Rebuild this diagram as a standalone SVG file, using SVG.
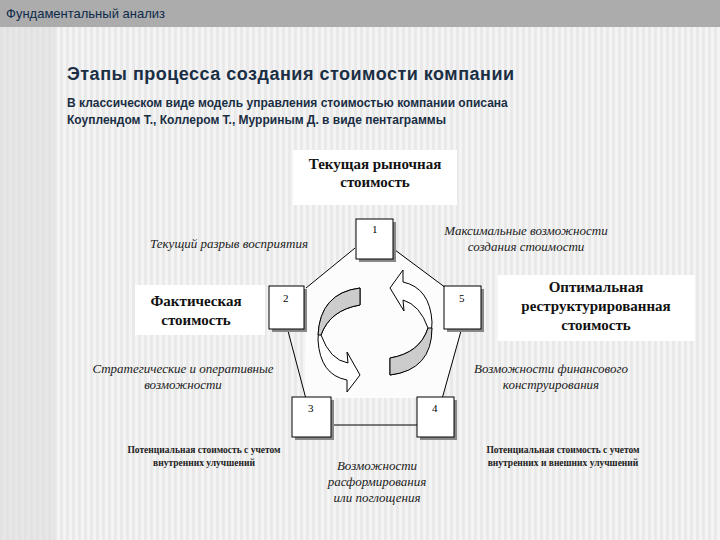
<svg xmlns="http://www.w3.org/2000/svg" width="720" height="540" viewBox="0 0 720 540">
<defs>
<pattern id="st" width="6" height="10" patternUnits="userSpaceOnUse"><rect width="6" height="10" fill="#f4f4f4"/><rect width="3" height="10" fill="#e9e9e9"/></pattern>
<style>
.b{fill:#fff;stroke:#000;stroke-width:1}
.sh{fill:#888}
.n{font-family:"Liberation Serif",serif;font-size:11px}
.it{font-family:"Liberation Serif",serif;font-size:13px;font-style:italic;fill:#222}
.big{font-family:"Liberation Serif",serif;font-size:15px;font-weight:bold;fill:#111}
.sm{font-family:"Liberation Serif",serif;font-size:9.5px;font-weight:bold;fill:#222}
.ln{stroke:#000;stroke-width:1;fill:none}
</style>
</defs>
<rect width="720" height="540" fill="url(#st)"/>
<rect width="55" height="540" fill="#ddd" opacity="0.6"/>
<rect width="720" height="27" fill="#acacac"/>
<text x="6" y="18" font-family="Liberation Sans,sans-serif" font-size="13" fill="#0e2a4a">Фундаментальный анализ</text>
<text x="67" y="80" font-family="Liberation Sans,sans-serif" font-size="18" font-weight="bold" fill="#1a2e44" letter-spacing="0.5">Этапы процесса создания стоимости компании</text>
<text font-family="Liberation Sans,sans-serif" font-size="12" font-weight="bold" fill="#1a2e44"><tspan x="67" y="107">В классическом виде модель управления стоимостью компании описана</tspan><tspan x="67" y="124">Коуплендом Т., Коллером Т., Мурриным Д. в виде пентаграммы</tspan></text>
<g id="pentagon"><polygon points="357,245 306,287 305,398 443,398 461,330 445,287 394,250" fill="#fcfcfc" stroke="none"/></g>
<g id="connectors">
<line class="ln" x1="355" y1="248" x2="306" y2="288"/>
<line class="ln" x1="395" y1="250" x2="446" y2="288"/>
<line class="ln" x1="288" y1="331" x2="306" y2="399"/>
<line class="ln" x1="461" y1="331" x2="442" y2="399"/>
<line class="ln" x1="332" y1="425" x2="418" y2="425"/>
</g>
<g id="arrows">
<path d="M360,288 L360,305 Q330,310 321,335 Q330,360 348,363 L347,352 L360,375 L347,392 L347,380 Q320,375 318,340 Q318,293 360,288 Z" fill="#fff" stroke="#000"/>
<path d="M360,288 L360,305 Q330,310 321,335 L318,335 Q320,293 360,288 Z" fill="#ccc" stroke="#000"/>
<path d="M390,375 L390,358 Q420,353 428,328 Q420,305 403,300 L404,311 L390,288 L403,270 L403,282 Q430,288 432,322 Q432,370 390,375 Z" fill="#fff" stroke="#000"/>
<path d="M390,375 L390,358 Q420,353 428,328 L432,328 Q432,370 390,375 Z" fill="#ccc" stroke="#000"/>
</g>
<g id="n1"><rect class="sh" x="359" y="222" width="37" height="40"/><rect class="b" x="356" y="219" width="37" height="40"/><text class="n" x="372" y="233">1</text></g>
<g id="n2"><rect class="sh" x="272" y="289" width="35" height="43"/><rect class="b" x="269" y="286" width="35" height="43"/><text class="n" x="283" y="302">2</text></g>
<g id="n5"><rect class="sh" x="447" y="289" width="37" height="43"/><rect class="b" x="444" y="286" width="37" height="43"/><text class="n" x="459" y="302">5</text></g>
<g id="n3"><rect class="sh" x="295" y="400" width="39" height="40"/><rect class="b" x="292" y="397" width="39" height="40"/><text class="n" x="308" y="412">3</text></g>
<g id="n4"><rect class="sh" x="420" y="400" width="37" height="40"/><rect class="b" x="417" y="397" width="37" height="40"/><text class="n" x="432" y="412">4</text></g>
<g id="current"><rect x="293" y="150" width="164" height="55" fill="#fff"/><text class="big" text-anchor="middle"><tspan x="375" y="169">Текущая рыночная</tspan><tspan x="375" y="187">стоимость</tspan></text></g>
<g id="actual"><rect x="135" y="285" width="130" height="50" fill="#fff"/><text class="big" text-anchor="middle"><tspan x="196" y="306">Фактическая</tspan><tspan x="196" y="325">стоимость</tspan></text></g>
<g id="optimal"><rect x="498" y="275" width="197" height="66" fill="#fff"/><text class="big" text-anchor="middle"><tspan x="596" y="292">Оптимальная</tspan><tspan x="596" y="311">реструктурированная</tspan><tspan x="596" y="330">стоимость</tspan></text></g>
<g id="labels">
<text class="it" x="150" y="248">Текущий разрыв восприятия</text>
<text class="it" text-anchor="middle"><tspan x="526" y="235">Максимальные возможности</tspan><tspan x="526" y="251">создания стоимости</tspan></text>
<text class="it" text-anchor="middle"><tspan x="183" y="373">Стратегические и оперативные</tspan><tspan x="183" y="389">возможности</tspan></text>
<text class="it" text-anchor="middle"><tspan x="551" y="373">Возможности финансового</tspan><tspan x="551" y="389">конструирования</tspan></text>
<text class="it" text-anchor="middle"><tspan x="377" y="470">Возможности</tspan><tspan x="377" y="486">расформирования</tspan><tspan x="377" y="502">или поглощения</tspan></text>
<text class="sm" text-anchor="middle"><tspan x="204" y="453">Потенциальная стоимость с учетом</tspan><tspan x="204" y="466">внутренних улучшений</tspan></text>
<text class="sm" text-anchor="middle"><tspan x="563" y="453">Потенциальная стоимость с учетом</tspan><tspan x="563" y="466">внутренних  и внешних улучшений</tspan></text>
</g>
</svg>
